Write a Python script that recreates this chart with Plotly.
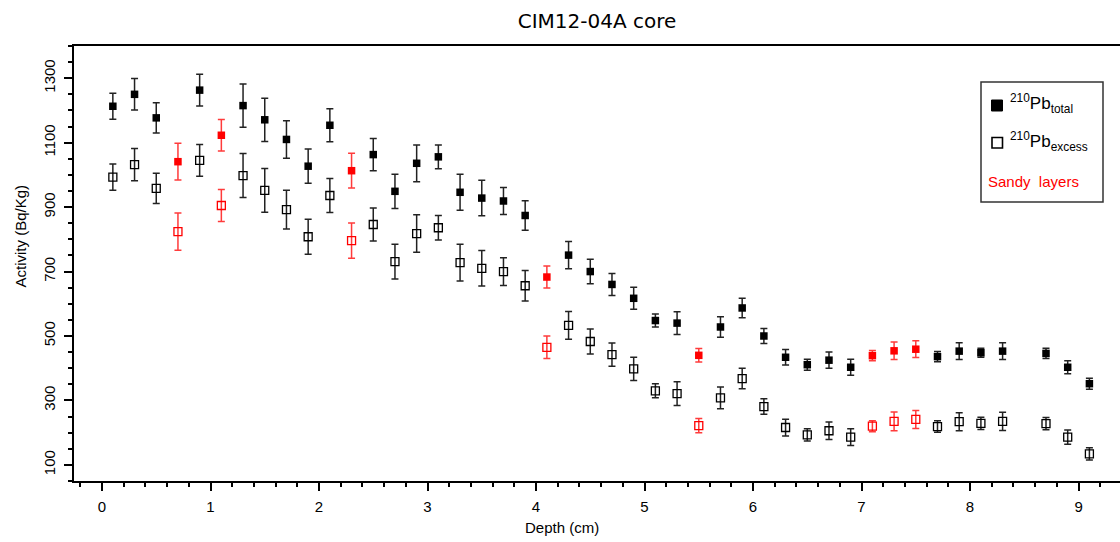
import plotly.graph_objects as go

# ---------------- data ----------------
depth = [0.1, 0.3, 0.5, 0.7, 0.9, 1.1, 1.3, 1.5, 1.7, 1.9, 2.1, 2.3, 2.5, 2.7, 2.9,
         3.1, 3.3, 3.5, 3.7, 3.9, 4.1, 4.3, 4.5, 4.7, 4.9, 5.1, 5.3, 5.5, 5.7, 5.9,
         6.1, 6.3, 6.5, 6.7, 6.9, 7.1, 7.3, 7.5, 7.7, 7.9, 8.1, 8.3, 8.7, 8.9, 9.1]

pb_total = [1213, 1250, 1177, 1041, 1263, 1123, 1215, 1171, 1110, 1027, 1154, 1013, 1063, 949, 1036,
            1056, 946, 928, 919, 874, 683, 751, 700, 660, 617, 548, 540, 440, 528, 587,
            500, 434, 411, 425, 403, 439, 454, 459, 436, 453, 448, 453, 446, 403, 352]
pb_total_err = [40, 49, 47, 57, 49, 49, 67, 67, 58, 53, 51, 54, 50, 53, 57,
                37, 56, 55, 42, 46, 34, 42, 38, 34, 34, 20, 35, 21, 32, 30,
                23, 24, 17, 25, 25, 16, 27, 26, 16, 26, 14, 26, 16, 20, 17]

pb_excess = [993, 1032, 958, 824, 1045, 905, 998, 952, 892, 808, 936, 796, 846, 731, 818,
             836, 728, 710, 700, 656, 465, 533, 483, 442, 398, 330, 321, 222, 308, 368,
             281, 216, 193, 206, 186, 220, 235, 241, 219, 234, 229, 235, 228, 186, 134]
pb_excess_err = [41, 50, 47, 58, 49, 50, 68, 68, 60, 54, 53, 55, 51, 54, 58,
                 38, 57, 55, 43, 47, 35, 43, 39, 36, 36, 22, 37, 22, 34, 32,
                 24, 26, 19, 27, 26, 17, 29, 28, 18, 28, 19, 28, 19, 22, 19]

sandy_depths = [0.7, 1.1, 2.3, 4.1, 5.5, 7.1, 7.3, 7.5]

x_ticks = [0, 1, 2, 3, 4, 5, 6, 7, 8, 9]
y_ticks = [100, 300, 500, 700, 900, 1100, 1300]

title_text = "CIM12-04A core"
x_title = "Depth (cm)"
y_title = "Activity (Bq/Kg)"
legend_total = "<sup>210</sup>Pb<sub>total</sub>"
legend_excess = "<sup>210</sup>Pb<sub>excess</sub>"
legend_sandy = "Sandy  layers"

# ---------------- layout geometry ----------------
W, H = 1120, 542
L, R, T, B = 74, 0, 46, 61
PW, PH = W - L - R, H - T - B


def px(xp):
    return (xp - L) / PW


def py(yp):
    return (H - B - yp) / PH


def pick(vals, sandy):
    return [v for d, v in zip(depth, vals) if (d in sandy_depths) == sandy]


fig = go.Figure()

for sandy, col, ecol in [(False, "black", "#222222"), (True, "#ff0000", "#ff3b3b")]:
    # excess (open squares)
    fig.add_trace(go.Scatter(
        x=pick(depth, sandy), y=pick(pb_excess, sandy), mode="markers",
        marker=dict(symbol="square-open", size=8, color=col, line=dict(width=1.3, color=col)),
        error_y=dict(type="data", array=pick(pb_excess_err, sandy), visible=True,
                     color=ecol, thickness=1.5, width=3.5),
        showlegend=False,
    ))
    # total (filled squares)
    fig.add_trace(go.Scatter(
        x=pick(depth, sandy), y=pick(pb_total, sandy), mode="markers",
        marker=dict(symbol="square", size=7.5, color=col, line=dict(width=0)),
        error_y=dict(type="data", array=pick(pb_total_err, sandy), visible=True,
                     color=ecol, thickness=1.5, width=3.5),
        showlegend=False,
    ))

axis_font = dict(family="Liberation Sans, Arial, sans-serif", size=15, color="black")

fig.update_layout(
    width=W, height=H,
    margin=dict(l=L, r=R, t=T, b=B, pad=0),
    paper_bgcolor="white", plot_bgcolor="white",
    title=dict(text=title_text, x=0.5, xref="paper", y=1 - 20.5 / H, yref="container",
               xanchor="center", yanchor="middle",
               font=dict(family="DejaVu Sans", size=20, color="black")),
    xaxis=dict(range=[-0.258, 9.382], tickvals=x_ticks, ticktext=[str(v) for v in x_ticks],
               showgrid=False, zeroline=False, showline=True, linecolor="black", linewidth=2,
               mirror=True, ticks="outside", ticklen=8, tickwidth=2, tickcolor="black",
               tickfont=axis_font, ticklabelstandoff=3,
               minor=dict(dtick=0.2, tick0=0, ticks="outside", ticklen=4, tickwidth=2,
                          tickcolor="black", showgrid=False)),
    yaxis=dict(range=[50, 1400], tickvals=y_ticks, ticktext=[str(v) for v in y_ticks],
               showgrid=False, zeroline=False, showline=True, linecolor="black", linewidth=2,
               mirror=False, ticks="outside", ticklen=8, tickwidth=2, tickcolor="black",
               tickfont=axis_font, tickangle=-90, ticklabelstandoff=3,
               minor=dict(dtick=50, tick0=0, ticks="outside", ticklen=4, tickwidth=2,
                          tickcolor="black", showgrid=False)),
)

# axis titles
fig.add_annotation(text=x_title, xref="paper", yref="paper", x=px(562), y=py(527),
                   showarrow=False, xanchor="center", yanchor="middle", font=axis_font)
fig.add_annotation(text=y_title, xref="paper", yref="paper", x=px(20), y=py(236.5),
                   showarrow=False, xanchor="center", yanchor="middle", textangle=-90,
                   font=axis_font)

# legend box (drawn manually)
fig.add_shape(type="rect", xref="paper", yref="paper", x0=px(981), x1=px(1103),
              y0=py(202), y1=py(82), line=dict(color="#333333", width=1.5),
              fillcolor="white", layer="above")
fig.add_shape(type="rect", xref="paper", yref="paper", x0=px(991.5), x1=px(1002.5),
              y0=py(111), y1=py(100), line=dict(color="black", width=1),
              fillcolor="black", layer="above")
fig.add_shape(type="rect", xref="paper", yref="paper", x0=px(992), x1=px(1002.5),
              y0=py(148), y1=py(137.5), line=dict(color="black", width=1.6),
              fillcolor="white", layer="above")
leg_font = dict(family="Liberation Sans, Arial, sans-serif", size=17, color="black")
fig.add_annotation(text=legend_total, xref="paper", yref="paper", x=px(1008), y=py(104),
                   showarrow=False, xanchor="left", yanchor="middle", font=leg_font)
fig.add_annotation(text=legend_excess, xref="paper", yref="paper", x=px(1008), y=py(141),
                   showarrow=False, xanchor="left", yanchor="middle", font=leg_font)
fig.add_annotation(text=legend_sandy, xref="paper", yref="paper", x=px(986), y=py(181.5),
                   showarrow=False, xanchor="left", yanchor="middle",
                   font=dict(family="Liberation Sans, Arial, sans-serif", size=15, color="#ff0000"))

fig.write_html("out.html")
